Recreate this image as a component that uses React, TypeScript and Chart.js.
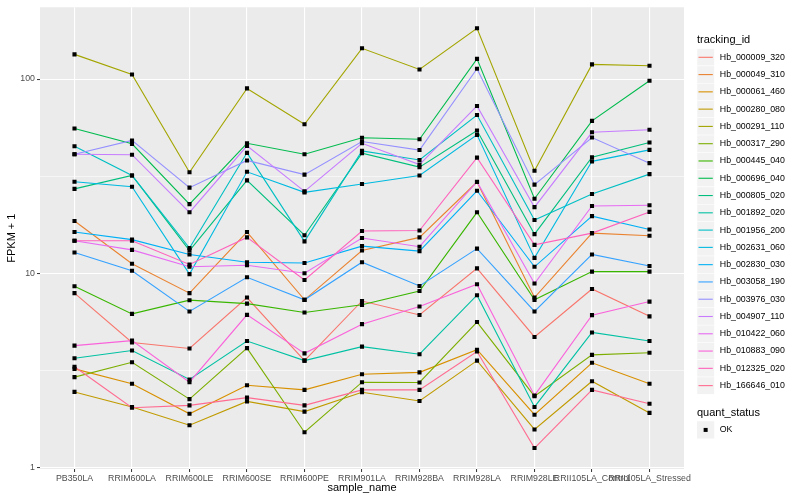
import React, { useEffect, useRef } from "react";
import { Chart, registerables } from "chart.js";

Chart.register(...registerables);

// ---------- data ----------
const samples = [
  "PB350LA", "RRIM600LA", "RRIM600LE", "RRIM600SE", "RRIM600PE", "RRIM901LA",
  "RRIM928BA", "RRIM928LA", "RRIM928LE", "RRII105LA_Control", "RRII105LA_Stressed",
];

const trackingIds = [
  "Hb_000009_320", "Hb_000049_310", "Hb_000061_460", "Hb_000280_080", "Hb_000291_110",
  "Hb_000317_290", "Hb_000445_040", "Hb_000696_040", "Hb_000805_020", "Hb_001892_020",
  "Hb_001956_200", "Hb_002631_060", "Hb_002830_030", "Hb_003058_190", "Hb_003976_030",
  "Hb_004907_110", "Hb_010422_060", "Hb_010883_090", "Hb_012325_020", "Hb_166646_010",
];

const seriesColors = [
  "#F8766D", "#EA8331", "#D89000", "#C09B00", "#A3A500", "#7CAE00", "#39B600",
  "#00BB4E", "#00BF7D", "#00C1A3", "#00BFC4", "#00BAE0", "#00B0F6", "#35A2FF",
  "#9590FF", "#C77CFF", "#E76BF3", "#FA62DB", "#FF62BC", "#FF6C91",
];

// FPKM + 1 per sample
const hb_000009_320 = [7.9, 4.4, 4.1, 7.5, 3.55, 7.2, 6.1, 10.6, 4.7, 8.3, 6.0];
const hb_000049_310 = [18.6, 11.2, 7.9, 16.3, 7.3, 13.1, 15.3, 29.5, 7.5, 16.1, 15.6];
const hb_000061_460 = [3.22, 2.7, 1.89, 2.65, 2.51, 3.02, 3.09, 4.04, 1.87, 3.46, 2.7];
const hb_000280_080 = [2.45, 2.05, 1.65, 2.19, 1.94, 2.44, 2.2, 3.55, 1.57, 2.78, 1.91];
const hb_000291_110 = [134, 105.6, 33.1, 89.5, 58.5, 144, 112, 182.6, 33.7, 119, 117];
const hb_000317_290 = [2.92, 3.48, 2.25, 4.12, 1.52, 2.75, 2.74, 5.61, 2.33, 3.8, 3.9];
const hb_000445_040 = [8.58, 6.18, 7.27, 6.98, 6.28, 6.88, 8.11, 20.6, 7.3, 10.2, 10.2];
const hb_000696_040 = [55.6, 46.4, 22.7, 46.7, 41.0, 49.9, 49.0, 127, 24.2, 60.9, 98];
const hb_000805_020 = [27.2, 31.9, 13.1, 30.1, 15.7, 41.5, 35.2, 54.3, 15.9, 39.6, 47.1];
const hb_001892_020 = [3.65, 4.0, 2.84, 4.48, 3.55, 4.19, 3.83, 7.71, 2.05, 4.96, 4.48];
const hb_001956_200 = [45.1, 31.9, 13.5, 41.7, 14.6, 42.7, 38.3, 65.3, 18.8, 25.6, 32.4];
const hb_002631_060 = [29.6, 27.9, 9.9, 33.3, 26.1, 28.8, 31.9, 51.6, 12.0, 37.7, 43.2];
const hb_002830_030 = [16.3, 14.9, 12.5, 11.4, 11.3, 13.8, 13.0, 26.6, 10.8, 19.7, 16.8];
const hb_003058_190 = [12.8, 10.3, 6.36, 9.54, 7.3, 11.4, 8.6, 13.4, 6.36, 12.5, 10.9];
const hb_003976_030 = [41.0, 48.3, 27.6, 38.1, 32.2, 47.7, 43.1, 113, 28.6, 50.0, 36.9];
const hb_004907_110 = [41.0, 40.8, 20.6, 45.3, 26.4, 46.7, 36.3, 72.7, 21.9, 53.2, 54.8];
const hb_010422_060 = [14.7, 13.2, 10.8, 11.0, 10.0, 15.2, 13.7, 29.6, 8.86, 22.2, 22.4];
const hb_010883_090 = [4.24, 4.5, 2.75, 6.11, 3.87, 5.47, 6.74, 8.78, 2.35, 6.09, 7.15];
const hb_012325_020 = [14.7, 14.7, 11.1, 15.3, 9.24, 16.5, 16.6, 39.4, 14.0, 16.1, 20.7];
const hb_166646_010 = [3.3, 2.03, 2.09, 2.29, 2.09, 2.51, 2.51, 3.96, 1.26, 2.51, 2.13];

const seriesValues = [
  hb_000009_320, hb_000049_310, hb_000061_460, hb_000280_080, hb_000291_110,
  hb_000317_290, hb_000445_040, hb_000696_040, hb_000805_020, hb_001892_020,
  hb_001956_200, hb_002631_060, hb_002830_030, hb_003058_190, hb_003976_030,
  hb_004907_110, hb_010422_060, hb_010883_090, hb_012325_020, hb_166646_010,
];

const quantStatus = ["OK"];

const yMajorTicks = [1, 10, 100];
const yMajorLabels = ["1", "10", "100"];
const yMinorTicks = [3.1623, 31.623];

// ---------- styling ----------
const FONT = '"Liberation Sans", Arial, Helvetica, sans-serif';
const PANEL_BG = "#EBEBEB";

const panelBg = {
  id: "panelBg",
  beforeDraw(chart: any) {
    const { ctx, chartArea } = chart;
    ctx.save();
    ctx.fillStyle = PANEL_BG;
    ctx.fillRect(chartArea.left, chartArea.top, chartArea.right - chartArea.left, chartArea.bottom - chartArea.top);
    ctx.restore();
  },
};

const ggLegend = {
  id: "ggLegend",
  afterDraw(chart: any) {
    const ctx = chart.ctx;
    const x0 = 697;
    const key = 17.28;
    ctx.save();
    ctx.textAlign = "left";
    ctx.textBaseline = "middle";
    ctx.fillStyle = "#000";
    ctx.font = `11px ${FONT}`;
    ctx.fillText("tracking_id", x0, 40);
    const y0 = 57.3;
    trackingIds.forEach((id, i) => {
      const cy = y0 + i * key;
      ctx.fillStyle = "#F2F2F2";
      ctx.fillRect(x0, cy - key / 2, key, key);
      ctx.strokeStyle = "#FFFFFF";
      ctx.lineWidth = 0.5;
      ctx.strokeRect(x0, cy - key / 2, key, key);
      ctx.strokeStyle = seriesColors[i];
      ctx.lineWidth = 1.1;
      ctx.beginPath();
      ctx.moveTo(x0 + 1.5, cy);
      ctx.lineTo(x0 + key - 1.5, cy);
      ctx.stroke();
      ctx.fillStyle = "#000";
      ctx.font = `8.8px ${FONT}`;
      ctx.fillText(id, x0 + key + 5.5, cy);
    });
    const qTitleY = y0 + (trackingIds.length - 1) * key + 27;
    ctx.font = `11px ${FONT}`;
    ctx.fillText("quant_status", x0, qTitleY);
    quantStatus.forEach((q, i) => {
      const cy = qTitleY + 17.3 + i * key;
      ctx.fillStyle = "#F2F2F2";
      ctx.fillRect(x0, cy - key / 2, key, key);
      ctx.fillStyle = "#000";
      ctx.fillRect(x0 + key / 2 - 2, cy - 2, 4, 4);
      ctx.font = `8.8px ${FONT}`;
      ctx.fillText(q, x0 + key + 5.5, cy);
    });
    ctx.restore();
  },
};

export default function App() {
  const ref = useRef<HTMLCanvasElement | null>(null);

  useEffect(() => {
    document.body.style.margin = "0";
    const canvas = ref.current;
    if (!canvas) return;

    const all = seriesValues.flat();
    const lmin = Math.log10(Math.min(...all));
    const lmax = Math.log10(Math.max(...all));
    const pad = (lmax - lmin) * 0.05;
    const yMin = Math.pow(10, lmin - pad);
    const yMax = Math.pow(10, lmax + pad);

    const n = seriesValues.length;
    const lineSets = seriesValues.map((vals, i) => ({
      label: trackingIds[i],
      data: vals.map((v, j) => ({ x: j, y: v })),
      borderColor: seriesColors[i],
      backgroundColor: seriesColors[i],
      borderWidth: 1.1,
      pointRadius: 0,
      tension: 0,
      order: n - i + 1,
    }));
    const pointSet = {
      label: "quant_status",
      data: seriesValues.flatMap((vals) => vals.map((v, j) => ({ x: j, y: v }))),
      showLine: false,
      pointStyle: "rect",
      pointRadius: 2.9,
      pointBorderWidth: 0,
      pointBackgroundColor: "#000",
      borderColor: "#000",
      order: 0,
    };

    const isMajor = (v: number) => yMajorTicks.some((t) => Math.abs(t - v) < 1e-6);

    const chart = new Chart(canvas, {
      type: "line",
      data: { datasets: [...lineSets, pointSet] as any },
      options: {
        responsive: false,
        animation: false,
        devicePixelRatio: 1,
        layout: { padding: { top: 5, right: 116, bottom: 0, left: 0 } },
        plugins: { legend: { display: false }, tooltip: { enabled: false } },
        scales: {
          x: {
            type: "linear",
            min: -0.6,
            max: samples.length - 1 + 0.6,
            afterBuildTicks: (ax: any) => {
              ax.ticks = samples.map((_, i) => ({ value: i }));
            },
            afterFit: (ax: any) => {
              ax.height = 31;
            },
            border: { display: false },
            grid: {
              color: "#FFFFFF",
              lineWidth: 1.1,
              drawTicks: true,
              tickLength: 3,
              tickColor: "#333333",
              tickWidth: 1,
            },
            ticks: {
              autoSkip: false,
              maxRotation: 0,
              minRotation: 0,
              padding: 1,
              color: "#4D4D4D",
              font: { family: FONT, size: 8.8 },
              callback: (v: any) => samples[v as number] ?? "",
            },
            title: {
              display: true,
              text: "sample_name",
              color: "#000",
              font: { family: FONT, size: 11 },
              padding: { top: 0, bottom: 5 },
            },
          },
          y: {
            type: "logarithmic",
            min: yMin,
            max: yMax,
            afterBuildTicks: (ax: any) => {
              ax.ticks = [...yMajorTicks, ...yMinorTicks].sort((a, b) => a - b).map((v) => ({ value: v }));
            },
            afterFit: (ax: any) => {
              ax.width = 40;
            },
            border: { display: false },
            grid: {
              color: "#FFFFFF",
              lineWidth: (c: any) => (c.tick && isMajor(c.tick.value) ? 1.1 : 0.55),
              drawTicks: true,
              tickLength: 3,
              tickColor: (c: any) => (c.tick && isMajor(c.tick.value) ? "#333333" : "rgba(0,0,0,0)"),
              tickWidth: 1,
            },
            ticks: {
              autoSkip: false,
              padding: 2,
              color: "#4D4D4D",
              font: { family: FONT, size: 8.8 },
              callback: (v: any) => {
                const k = yMajorTicks.findIndex((t) => Math.abs(t - (v as number)) < 1e-6);
                return k >= 0 ? yMajorLabels[k] : "";
              },
            },
            title: {
              display: true,
              text: "FPKM + 1",
              color: "#000",
              font: { family: FONT, size: 11 },
              padding: { top: 5, bottom: 0 },
            },
          },
        },
      } as any,
      plugins: [panelBg, ggLegend],
    });

    return () => chart.destroy();
  }, []);

  return <canvas ref={ref} width={800} height={500} style={{ display: "block", width: 800, height: 500 }} />;
}
